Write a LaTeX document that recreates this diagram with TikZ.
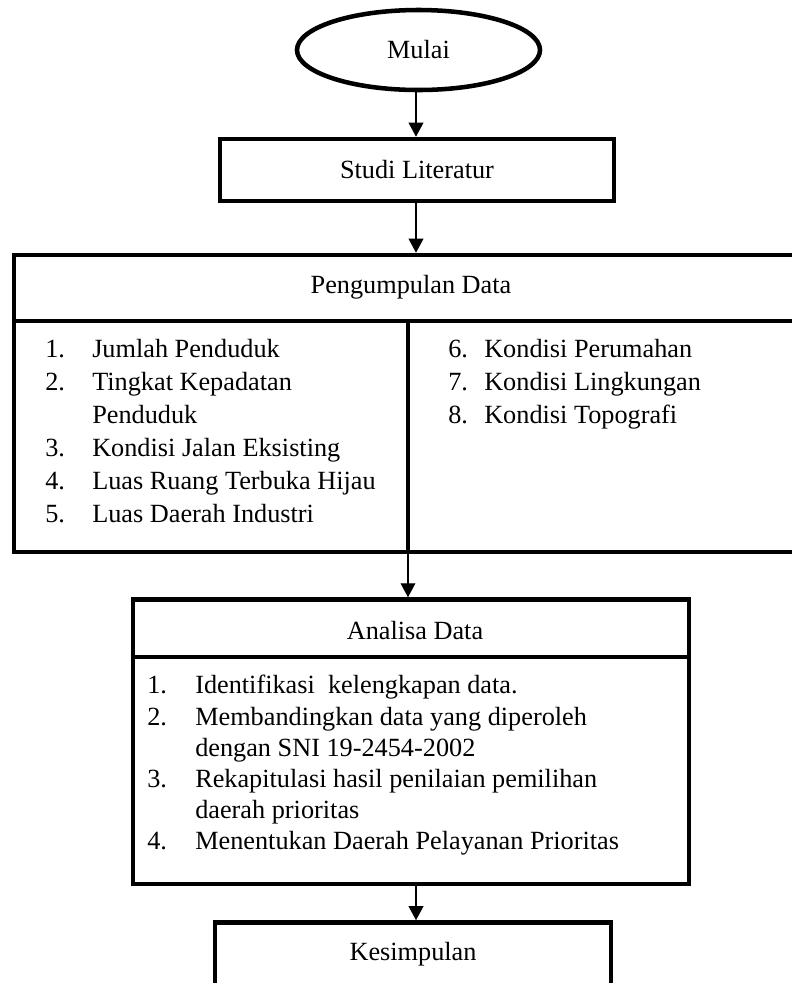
\documentclass[tikz,border=0pt]{standalone}
\usepackage{fontspec}
\setmainfont{Liberation Serif}
\usetikzlibrary{arrows.meta,shapes.geometric}
\begin{document}
\begin{tikzpicture}[x=0.75pt,y=-0.75pt,
  box/.style={draw, line width=3.4pt, rectangle, inner sep=0pt, font=\fontsize{19.7}{23.6}\selectfont},
  txt/.style={font=\fontsize{19.7}{23.6}\selectfont, inner sep=0pt},
  item/.style={txt, anchor=base west},
  arr/.style={draw, line width=1.1pt, -{Triangle[length=10.5pt,width=11pt]}}]
\clip (0,0) rectangle (792,983);
\fill[white] (0,0) rectangle (792,983);
% shapes
\node[box, ellipse, minimum width=182.25pt, minimum height=60pt] (mulai) at (418.5,50) {Mulai};
\node[box, minimum width=295.5pt, minimum height=46.5pt] (studi) at (417,170) {Studi Literatur};
\node[box, minimum width=597pt, minimum height=49.5pt] (pengH) at (412,288) {};
\node[txt] (pengT) at (411,287) {Pengumpulan Data};
\node[box, minimum width=295.5pt, minimum height=173.25pt] (pengL) at (211,436.5) {};
\node[box, minimum width=301.5pt, minimum height=173.25pt] (pengR) at (609,436.5) {};
\node[box, minimum width=417pt, minimum height=43.1pt] (analH) at (411,628.25) {};
\node[txt] (analT) at (415,631) {Analisa Data};
\node[box, minimum width=417pt, minimum height=170.25pt] (analB) at (411,770.5) {};
\node[box, minimum width=297pt, minimum height=65.25pt] (kes) at (413,966) {};
\node[txt] (kesT) at (413,954) {Kesimpulan};
% left list
\node[item] (l1n) at (45,357) {1.};
\node[item] (l1t) at (92,357) {Jumlah Penduduk};
\node[item] (l2n) at (45,390) {2.};
\node[item] (l2t) at (92,390) {Tingkat Kepadatan};
\node[item] (l2u) at (92,423) {Penduduk};
\node[item] (l3n) at (45,456) {3.};
\node[item] (l3t) at (92,456) {Kondisi Jalan Eksisting};
\node[item] (l4n) at (45,489) {4.};
\node[item] (l4t) at (92,489) {Luas Ruang Terbuka Hijau};
\node[item] (l5n) at (45,522) {5.};
\node[item] (l5t) at (92,522) {Luas Daerah Industri};
% right list
\node[item] (r6n) at (448,357) {6.};
\node[item] (r6t) at (484,357) {Kondisi Perumahan};
\node[item] (r7n) at (448,390) {7.};
\node[item] (r7t) at (484,390) {Kondisi Lingkungan};
\node[item] (r8n) at (448,423) {8.};
\node[item] (r8t) at (484,423) {Kondisi Topografi};
% analisa list
\node[item] (a1n) at (147,693) {1.};
\node[item] (a1t) at (195,693) {Identifikasi~ kelengkapan data.};
\node[item] (a2n) at (147,725) {2.};
\node[item] (a2t) at (195,725) {Membandingkan data yang diperoleh};
\node[item] (a2u) at (195,756) {dengan SNI 19-2454-2002};
\node[item] (a3n) at (147,787) {3.};
\node[item] (a3t) at (195,787) {Rekapitulasi hasil penilaian pemilihan};
\node[item] (a3u) at (195,818) {daerah prioritas};
\node[item] (a4n) at (147,849) {4.};
\node[item] (a4t) at (195,849) {Menentukan Daerah Pelayanan Prioritas};
% connectors
\coordinate (ax) at (416,0);
\coordinate (bx) at (408,0);
\draw[arr] (mulai.south -| ax) -- (studi.north -| ax);
\draw[arr] (studi.south -| ax) -- (pengH.north -| ax);
\draw[arr] (pengL.south -| bx) -- (analH.north -| bx);
\draw[arr] (analB.south -| ax) -- (kes.north -| ax);
\end{tikzpicture}
\end{document}
